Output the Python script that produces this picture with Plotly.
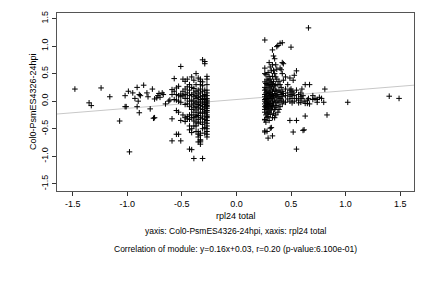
import plotly.graph_objects as go

# ---- data ----
left_outlier_x = [-1.48, -1.24, -1.35, -1.33, -1.16, -1.07, -1.02, -1.02, -1.01, -0.99, -0.98,
                  -0.95, -0.93, -0.91, -0.91, -0.89, -0.88, -0.90, -0.89, -0.85, -0.82, -0.81,
                  -0.79, -0.77, -0.76, -0.75, -0.75, -0.73, -0.72, -0.71, -0.70, -0.68, -0.67,
                  -0.65, -0.62, -0.61]
left_outlier_y = [0.22, 0.24, -0.03, -0.08, 0.08, -0.36, 0.10, -0.10, -0.10, 0.18, -0.92,
                  0.15, 0.05, 0.25, -0.10, 0.12, 0.10, 0.00, -0.21, 0.29, 0.15, 0.08,
                  -0.14, 0.22, -0.31, -0.30, 0.04, 0.06, 0.10, 0.14, 0.07, 0.15, 0.12,
                  -0.05, 0.00, 0.02]

left_cluster = {
    -0.27: [0.45, 0.40, 0.30, 0.20, 0.15, 0.10, 0.05, 0.02, 0.00, -0.03, -0.05, -0.08, -0.10,
            -0.13, -0.17, -0.20, -0.25, -0.28, -0.30, -0.35, -0.40, -0.45, -0.50, -0.55, -0.60, -0.65],
    -0.29: [0.72, 0.68, 0.20, 0.12, 0.08, 0.03, -0.02, -0.06, -0.12, -0.18, -0.22, -0.33, -0.38, -0.48, -0.58],
    -0.31: [0.75, 0.35, 0.28, 0.18, 0.10, 0.05, 0.00, -0.05, -0.10, -0.15, -0.20, -0.27, -0.32, -0.42, -0.50, -1.04],
    -0.33: [0.40, 0.36, 0.30, 0.22, 0.15, 0.08, 0.03, -0.03, -0.08, -0.14, -0.22, -0.30, -0.38, -0.58,
            -0.62, -0.70, -0.72, -0.74, -0.78],
    -0.35: [0.42, 0.20, 0.13, 0.07, 0.00, -0.06, -0.12, -0.20, -0.26, -0.33, -0.40, -0.55, -0.60, -0.65, -0.74],
    -0.37: [0.50, 0.30, 0.18, 0.10, 0.05, -0.03, -0.10, -0.16, -0.25, -0.28, -0.38, -0.45, -0.55],
    -0.39: [0.38, 0.23, 0.15, 0.08, 0.00, -0.05, -0.12, -0.20, -0.30, -0.36, -0.45, -1.04],
    -0.41: [0.44, 0.25, 0.12, 0.02, -0.07, -0.15, -0.25, -0.30, -0.50, -0.57, -0.88],
    -0.43: [0.30, 0.20, 0.10, 0.00, -0.10, -0.25, -0.33, -0.45, -0.52, -0.87],
    -0.45: [0.40, 0.26, 0.15, 0.05, -0.05, -0.28, -0.32],
    -0.47: [0.36, 0.22, 0.12, 0.05, -0.06, -0.30, -0.37],
    -0.49: [0.40, 0.18, 0.10, -0.25],
    -0.51: [0.63, 0.13, 0.08, -0.02, -0.35, -0.72],
    -0.53: [0.27, 0.10, 0.00, -0.20, -0.60],
    -0.55: [0.24, 0.12, 0.02, -0.17, -0.60],
    -0.57: [0.41, 0.18, 0.03],
    -0.59: [0.21, 0.12, -0.32, -0.72],
}

right_cluster = {
    0.26: [1.11, 0.60, 0.50, 0.35, 0.25, 0.20, 0.12, 0.08, 0.03, 0.00, -0.05, -0.10, -0.15, -0.20,
           -0.33, -0.34, -0.54, -0.56],
    0.27: [0.48, 0.32, 0.22, 0.15, 0.05, -0.02, -0.08, -0.12, -0.25, -0.38],
    0.28: [0.40, 0.30, 0.18, 0.10, 0.02, -0.04, -0.14, -0.22, -0.30, -0.55],
    0.29: [0.52, 0.38, 0.28, 0.14, 0.06, 0.00, -0.06, -0.12, -0.18, -0.28, -0.67],
    0.30: [0.70, 0.45, 0.33, 0.24, 0.16, 0.08, -0.02, -0.10, -0.20, -0.35],
    0.31: [0.62, 0.40, 0.30, 0.20, 0.11, 0.04, -0.04, -0.14, -0.24, -0.49],
    0.32: [0.55, 0.35, 0.26, 0.12, 0.05, -0.08, -0.16, -0.48],
    0.33: [0.93, 0.66, 0.45, 0.30, 0.18, 0.10, 0.00, -0.10, -0.30, -0.63],
    0.34: [0.82, 0.56, 0.36, 0.22, 0.08, -0.05, -0.22],
    0.35: [0.77, 0.50, 0.28, 0.14, 0.02, -0.15, -0.30],
    0.36: [0.66, 0.44, 0.30, 0.20, 0.10, -0.02, -0.12, -0.25],
    0.37: [0.99, 0.58, 0.40, 0.18, 0.06, -0.08],
    0.38: [1.01, 0.30, 0.12, 0.00, -0.20],
    0.39: [0.36, 0.20, 0.08, -0.02, -0.15],
    0.40: [1.05, 0.60, 0.30, 0.16, 0.05, -0.10],
    0.41: [0.57, 0.25, 0.12, 0.02],
    0.42: [1.06, 0.70, 0.50, 0.18, 0.08, -0.05],
    0.43: [0.68, 0.38, 0.14, 0.00],
    0.45: [0.44, 0.22, 0.10, -0.02],
    0.47: [0.30, 0.15, 0.04],
    0.49: [0.42, 0.20, 0.09, 0.00, -0.35],
    0.50: [0.98, 0.22, 0.12],
    0.51: [0.18, 0.05, -0.03],
    0.52: [0.38, 0.15, -0.56],
    0.53: [0.47, 0.10, 0.00],
    0.55: [0.55, 0.20, 0.05, -0.35, -0.87],
    0.57: [0.12, 0.02, -0.03],
    0.59: [0.15, 0.08, -0.02],
    0.60: [0.22, 0.05],
    0.61: [0.10, -0.53],
    0.62: [0.00, -0.52],
    0.63: [0.30, -0.27, -0.04],
    0.65: [-0.04, 0.02],
    0.66: [1.33, 0.05],
    0.67: [0.30, -0.05],
}

right_outlier_x = [0.70, 0.70, 0.72, 0.74, 0.74, 0.76, 0.78, 0.80, 0.81, 0.83, 1.02, 1.40, 1.49]
right_outlier_y = [0.10, 0.03, 0.05, -0.02, 0.03, 0.07, 0.05, -0.02, 0.22, -0.25, -0.02, 0.09, 0.05]

slope = 0.16
intercept = 0.03
x_range = [-1.644, 1.627]
y_range = [-1.63, 1.60]
tick_vals = [-1.5, -1.0, -0.5, 0.0, 0.5, 1.0, 1.5]
tick_text = ["-1.5", "-1.0", "-0.5", "0.0", "0.5", "1.0", "1.5"]

x_label = "rpl24 total"
y_label = "Col0-PsmES4326-24hpi"
caption1 = "yaxis: Col0-PsmES4326-24hpi, xaxis: rpl24 total"
caption2 = "Correlation of module: y=0.16x+0.03, r=0.20 (p-value:6.100e-01)"

# ---- assemble ----
xs = list(left_outlier_x) + list(right_outlier_x)
ys = list(left_outlier_y) + list(right_outlier_y)
for cluster in (left_cluster, right_cluster):
    for cx, col in cluster.items():
        xs += [cx] * len(col)
        ys += col

FONT = "Liberation Sans, Arial, sans-serif"

fig = go.Figure()
fig.add_trace(go.Scatter(
    x=x_range, y=[slope * v + intercept for v in x_range], mode="lines",
    line=dict(color="#c8c8c8", width=1), hoverinfo="skip", showlegend=False))
fig.add_trace(go.Scatter(
    x=xs, y=ys, mode="markers",
    marker=dict(symbol="cross-thin", size=4, color="black",
                line=dict(color="black", width=1)),
    showlegend=False))

axis_common = dict(
    showgrid=False, zeroline=False, showline=True, mirror=True,
    linecolor="#555555", linewidth=1, ticks="outside", ticklen=4,
    tickcolor="#333333", tickwidth=1, tickvals=tick_vals, ticktext=tick_text,
    tickfont=dict(family=FONT, size=9, color="black"),
)

fig.update_layout(
    width=432, height=288,
    margin=dict(l=57, r=18, t=13, b=97),
    paper_bgcolor="white", plot_bgcolor="white",
    xaxis=dict(range=x_range, **axis_common),
    yaxis=dict(range=y_range, tickangle=-90, **axis_common),
    font=dict(family=FONT, size=9, color="black"),
    annotations=[
        dict(text=x_label, xref="paper", yref="paper", x=0.5, y=0, yanchor="middle",
             yshift=-25, showarrow=False, font=dict(size=9)),
        dict(text=y_label, xref="paper", yref="paper", x=0, y=0.5, xanchor="center",
             xshift=-24, textangle=-90, showarrow=False, font=dict(size=9)),
        dict(text=caption1, xref="paper", yref="paper", x=0.5, y=0, yanchor="middle",
             yshift=-40, showarrow=False, font=dict(size=8.5)),
        dict(text=caption2, xref="paper", yref="paper", x=0.5, y=0, yanchor="middle",
             yshift=-58, showarrow=False, font=dict(size=8.5)),
    ],
)

fig.write_html("out.html")
